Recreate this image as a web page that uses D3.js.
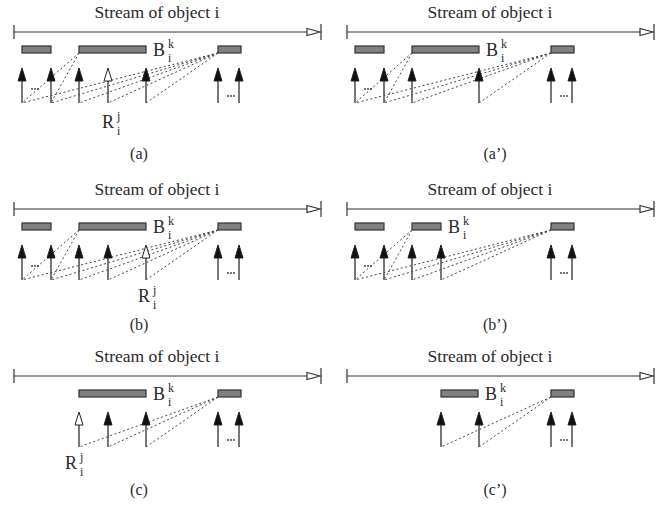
<!DOCTYPE html>
<html>
<head>
<meta charset="utf-8">
<script src="https://cdn.jsdelivr.net/npm/d3@7"></script>
<style>
  body { margin: 0; background: #fff; }
  text { font-family: "Liberation Serif", "Times New Roman", serif; fill: #2a2a2a; }
</style>
</head>
<body>
<div id="chart-area"></div>
<script>
// stream time units (0 = start of the stream)
var captions = ["(a)", "(a\u2019)", "(b)", "(b\u2019)", "(c)", "(c\u2019)"]
var streamEnd = 307

var requestTimes = [
  [8, 37, 65, 94, 132, 204, 225],
  [8, 37, 65, 132, 204, 225],
  [8, 37, 65, 94, 132, 204, 225],
  [8, 37, 65, 94, 204, 225],
  [65, 94, 132, 204, 225],
  [94, 132, 204, 225]
]
// the request that is drawn hollow (R_i^j), null if none
var newRequest = [94, null, 132, null, 65, null]

var batches = [
  [[8, 37], [65, 132], [204, 227]],
  [[8, 37], [65, 132], [204, 227]],
  [[8, 37], [65, 132], [204, 227]],
  [[8, 37], [65, 94], [204, 227]],
  [[65, 132], [204, 227]],
  [[94, 131], [204, 227]]
]
// end of the batch that carries the B_i^k label
var labelBatchEnd = [132, 132, 132, 94, 132, 131]

// dotted links: [batch start, request time]
var links = [
  [[65, 8], [65, 37], [204, 8], [204, 37], [204, 65], [204, 94], [204, 132]],
  [[65, 8], [65, 37], [204, 8], [204, 37], [204, 65], [204, 132]],
  [[65, 8], [65, 37], [204, 8], [204, 37], [204, 65], [204, 94], [204, 132]],
  [[65, 8], [65, 37], [204, 8], [204, 37], [204, 65], [204, 94]],
  [[204, 65], [204, 94], [204, 132]],
  [[204, 94], [204, 132]]
]
var rLabelTime = [88, null, 124, null, 51, null]

var colX = [0, 333]
var rowY = [0, 177, 344]
var rBase = [128, 125, 125]
var capBase = [159, 153, 151]
var capX = [139, 162]

var svg = d3.select("#chart-area")
  .append("svg")
  .attr("width", 668)
  .attr("height", 508)

var x = d3.scaleLinear()
  .domain([0, streamEnd])
  .range([14, 321])

var lineY = 32, barTop = 46, barH = 7, tipY = 68, baseY = 103

captions.forEach(function(cap, p) {
  var row = Math.floor(p / 2), col = p % 2
  var g = svg.append("g")
    .attr("transform", "translate(" + colX[col] + "," + rowY[row] + ")")

  // title
  g.append("text")
    .text("Stream of object i")
    .attr("x", 157)
    .attr("y", 18)
    .attr("text-anchor", "middle")
    .attr("font-size", "17.5px")

  // stream line
  g.append("line")
    .attr("x1", x(0)).attr("x2", x(streamEnd) - 13)
    .attr("y1", lineY).attr("y2", lineY)
    .attr("stroke", "#333").attr("stroke-width", 1.2)
  g.append("line")
    .attr("x1", x(0)).attr("x2", x(0))
    .attr("y1", lineY - 7).attr("y2", lineY + 7)
    .attr("stroke", "#333").attr("stroke-width", 1.2)
  g.append("line")
    .attr("x1", x(streamEnd)).attr("x2", x(streamEnd))
    .attr("y1", lineY - 8).attr("y2", lineY + 8)
    .attr("stroke", "#333").attr("stroke-width", 1.2)
  g.append("path")
    .attr("d", "M" + (x(streamEnd) - 14) + "," + (lineY - 3.5) + "L" + (x(streamEnd) - 1) + "," + lineY +
      "L" + (x(streamEnd) - 14) + "," + (lineY + 3.5) + "Z")
    .attr("fill", "#fff").attr("stroke", "#333").attr("stroke-width", 1.2)

  // batches
  g.selectAll("rect.batch")
    .data(batches[p])
    .enter()
    .append("rect")
    .attr("class", "batch")
    .attr("x", d => x(d[0]))
    .attr("y", barTop)
    .attr("width", d => x(d[1]) - x(d[0]))
    .attr("height", barH)
    .attr("fill", "#808080")
    .attr("stroke", "#333")
    .attr("stroke-width", 1.2)

  // B label
  var bx = x(labelBatchEnd[p]) + 7
  g.append("text").text("B").attr("x", bx).attr("y", 56).attr("font-size", "18px")
  g.append("text").text("k").attr("x", bx + 15).attr("y", 48).attr("font-size", "12px")
  g.append("text").text("i").attr("x", bx + 15).attr("y", 62).attr("font-size", "12px")

  // links
  g.selectAll("line.link")
    .data(links[p])
    .enter()
    .append("line")
    .attr("class", "link")
    .attr("x1", d => x(d[0]))
    .attr("y1", barTop + barH)
    .attr("x2", d => x(d[1]))
    .attr("y2", baseY)
    .attr("stroke", "#444")
    .attr("stroke-width", 1)
    .attr("stroke-dasharray", "2,2.5")

  // requests
  var req = g.selectAll("g.req")
    .data(requestTimes[p])
    .enter()
    .append("g")
    .attr("class", "req")
  req.append("line")
    .attr("x1", d => x(d)).attr("x2", d => x(d))
    .attr("y1", tipY + 8).attr("y2", baseY)
    .attr("stroke", "#555").attr("stroke-width", 1.6)
  req.append("path")
    .attr("d", d => "M" + x(d) + "," + tipY + "L" + (x(d) + 4) + "," + (tipY + 13) +
      "L" + (x(d) - 4) + "," + (tipY + 13) + "Z")
    .attr("fill", d => d === newRequest[p] ? "#fff" : "#111")
    .attr("stroke", "#222")
    .attr("stroke-width", 1)

  // ellipsis dots
  var reqs = requestTimes[p]
  var dots = []
  if (reqs.indexOf(8) >= 0 && reqs.indexOf(37) >= 0) dots.push([18, 89])
  dots.push([214, 96])
  dots.forEach(function(d) {
    g.selectAll(null)
      .data([0, 3, 6])
      .enter()
      .append("circle")
      .attr("cx", o => x(d[0]) + o)
      .attr("cy", d[1])
      .attr("r", 0.9)
      .attr("fill", "#333")
  })

  // R label
  if (rLabelTime[p] !== null) {
    var rx = x(rLabelTime[p])
    g.append("text").text("R").attr("x", rx).attr("y", rBase[row]).attr("font-size", "18px")
    g.append("text").text("j").attr("x", rx + 15).attr("y", rBase[row] - 8).attr("font-size", "12px")
    g.append("text").text("i").attr("x", rx + 15).attr("y", rBase[row] + 7).attr("font-size", "12px")
  }

  // caption
  g.append("text")
    .text(cap)
    .attr("x", capX[col])
    .attr("y", capBase[row])
    .attr("text-anchor", "middle")
    .attr("font-size", "16px")
})
</script>
</body>
</html>
